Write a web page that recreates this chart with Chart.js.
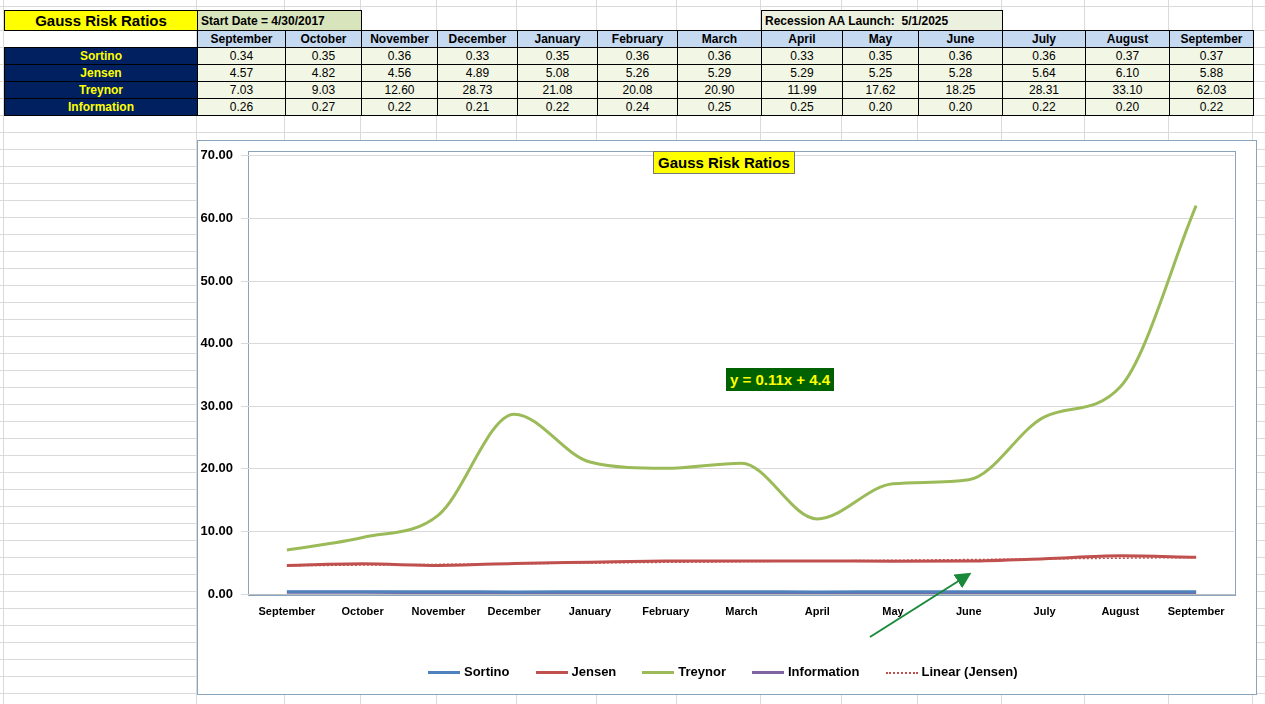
<!DOCTYPE html>
<html lang="en">
<head>
<meta charset="UTF-8">
<title>Gauss Risk Ratios</title>
<script src="https://cdn.jsdelivr.net/npm/chart.js@4.4.0/dist/chart.umd.min.js"></script>
<style>
    body { margin:0; width:1265px; height:704px; overflow:hidden; position:relative; font-family:"Liberation Sans", Arial, sans-serif;
        background-color:#fff;
        background-image:repeating-linear-gradient(to bottom, transparent 0, transparent 16px, #dadada 16px, #dadada 17px);
        background-position:0 14px; }
    .vl { position:absolute; top:0; height:704px; width:1px; background:#dadada; }
    table { position:absolute; left:4px; top:10px; border-collapse:collapse; font-size:12px; font-weight:bold; }
    td { border:1px solid #000; height:16px; padding:0; text-align:center; }
    td.lab { background:#002060; color:#ffff00; width:192px; }
    td.hd { background:#c5d9f1; }
    td.v { background:#f2f6e4; font-weight:normal; }
    td.none { border:none; background:transparent; }
    #box { position:absolute; left:197px; top:140px; width:1058px; height:553px; border:1px solid #8aa4bd; background:#fff; }
    #plotb { position:absolute; left:248px; top:151px; width:986px; height:443px; border:1px solid #8aa4bd; }
    #cv { position:absolute; left:197px; top:140px; }
    #title { position:absolute; left:653px; top:151px; background:#ffff00; border:1px solid #777; font-size:15px; font-weight:bold; padding:2px 4px; }
    #eq { position:absolute; left:726px; top:368px; background:#006100; color:#ffff00; font-size:15px; font-weight:bold; padding:3px 4px; }
    #legend { position:absolute; top:664px; left:428px; font-size:13px; font-weight:bold; display:flex; gap:26px; }
    #legend span i { display:inline-block; width:32px; height:0; border-top:3px solid; vertical-align:middle; margin-right:4px; }
</style>
</head>
<body>
<table id="tbl"></table>
<div id="box"></div>
<div id="plotb"></div>
<canvas id="cv" width="1058" height="500"></canvas>
<div id="title">Gauss Risk Ratios</div>
<div id="eq">y = 0.11x + 4.4</div>
<svg style="position:absolute;left:0;top:0" width="1265" height="704">
    <defs><marker id="ah" markerWidth="8" markerHeight="8" refX="6" refY="4" orient="auto"><path d="M0,0 L8,4 L0,8 z" fill="#1a8a3a"/></marker></defs>
    <line x1="870" y1="637" x2="968" y2="575" stroke="#1a8a3a" stroke-width="2" marker-end="url(#ah)"/>
</svg>
<div id="legend"></div>
<script>
    var months = ["September","October","November","December","January","February","March","April","May","June","July","August","September"]
    var sortino = [0.34,0.35,0.36,0.33,0.35,0.36,0.36,0.33,0.35,0.36,0.36,0.37,0.37]
    var jensen = [4.57,4.82,4.56,4.89,5.08,5.26,5.29,5.29,5.25,5.28,5.64,6.10,5.88]
    var treynor = [7.03,9.03,12.60,28.73,21.08,20.08,20.90,11.99,17.62,18.25,28.31,33.10,62.03]
    var information = [0.26,0.27,0.22,0.21,0.22,0.24,0.25,0.25,0.20,0.20,0.22,0.20,0.22]
    var yTicks = [0,10,20,30,40,50,60,70]
    var trendSlope = 0.11, trendIntercept = 4.4

    var colW = [193,88,76,76,80,80,80,84,81,76,84,83,84,84]
    var colX = [4]
    for (let i = 0; i < colW.length; i++) colX.push(colX[i] + colW[i])
    colX.forEach(function (x) {
        var d = document.createElement('div'); d.className = 'vl'; d.style.left = (x - 1) + 'px'
        document.body.insertBefore(d, document.body.firstChild)
    })

    function cells(arr, cls) {
        return arr.map(function (v, i) { return '<td class="' + cls + '" style="width:' + (colW[i + 1] - 1) + 'px">' + (typeof v == 'number' ? v.toFixed(2) : v) + '</td>' }).join('')
    }
    var eht = '<tr style="height:20px"><td style="background:#ffff00;font-size:15px">Gauss Risk Ratios</td>' +
        '<td colspan="2" style="background:#d8e4bc;text-align:left;padding-left:3px">Start Date = 4/30/2017</td>' +
        '<td colspan="5" class="none"></td>' +
        '<td colspan="3" style="background:#ebf1de;text-align:left;padding-left:3px">Recession AA Launch:&nbsp; 5/1/2025</td>' +
        '<td colspan="3" class="none"></td></tr>'
    eht += '<tr><td class="none"></td>' + cells(months, 'hd') + '</tr>'
    eht += '<tr><td class="lab">Sortino</td>' + cells(sortino, 'v') + '</tr>'
    eht += '<tr><td class="lab">Jensen</td>' + cells(jensen, 'v') + '</tr>'
    eht += '<tr><td class="lab">Treynor</td>' + cells(treynor, 'v') + '</tr>'
    eht += '<tr><td class="lab">Information</td>' + cells(information, 'v') + '</tr>'
    document.getElementById('tbl').innerHTML = eht

    var trend = months.map(function (m, i) { return trendSlope * (i + 1) + trendIntercept })
    var series = [
        { label: "Sortino", data: sortino, color: "#4f81bd" },
        { label: "Jensen", data: jensen, color: "#c0504d" },
        { label: "Treynor", data: treynor, color: "#9bbb59" },
        { label: "Information", data: information, color: "#8064a2" }
    ]
    var datasets = series.map(function (s) {
        return { label: s.label, data: s.data, borderColor: s.color, borderWidth: 3, pointRadius: 0, tension: 0.4, cubicInterpolationMode: 'monotone' }
    })
    datasets.push({ label: "Linear (Jensen)", data: trend, borderColor: "#c0504d", borderWidth: 1.5, borderDash: [2, 2], pointRadius: 0 })

    var leg = ''
    series.forEach(function (s) { leg += '<span><i style="border-color:' + s.color + '"></i>' + s.label + '</span>' })
    leg += '<span><i style="border-top:2px dotted #c0504d"></i>Linear (Jensen)</span>'
    document.getElementById('legend').innerHTML = leg

    Chart.defaults.font.family = '"Liberation Sans", Arial, sans-serif'
    new Chart(document.getElementById('cv'), {
        type: 'line',
        data: { labels: months, datasets: datasets },
        options: {
            responsive: false, animation: false,
            layout: { padding: { top: 12, right: 21, left: 0, bottom: 0 } },
            plugins: { legend: { display: false }, tooltip: { enabled: false } },
            scales: {
                x: { offset: true, grid: { display: false }, border: { color: '#bfbfbf' },
                    ticks: { color: '#000', font: { size: 11, weight: 'bold' }, maxRotation: 0, autoSkip: false },
                    afterFit: function (a) { a.height = 46 } },
                y: { min: 0, max: 70, afterBuildTicks: function (a) { a.ticks = yTicks.map(function (v) { return { value: v } }) },
                    grid: { color: '#d9d9d9' }, border: { display: false },
                    ticks: { color: '#000', font: { size: 13, weight: 'bold' }, padding: 8, callback: function (v) { return v.toFixed(2) } },
                    afterFit: function (a) { a.width = 52 } }
            }
        }
    })
</script>
</body>
</html>
